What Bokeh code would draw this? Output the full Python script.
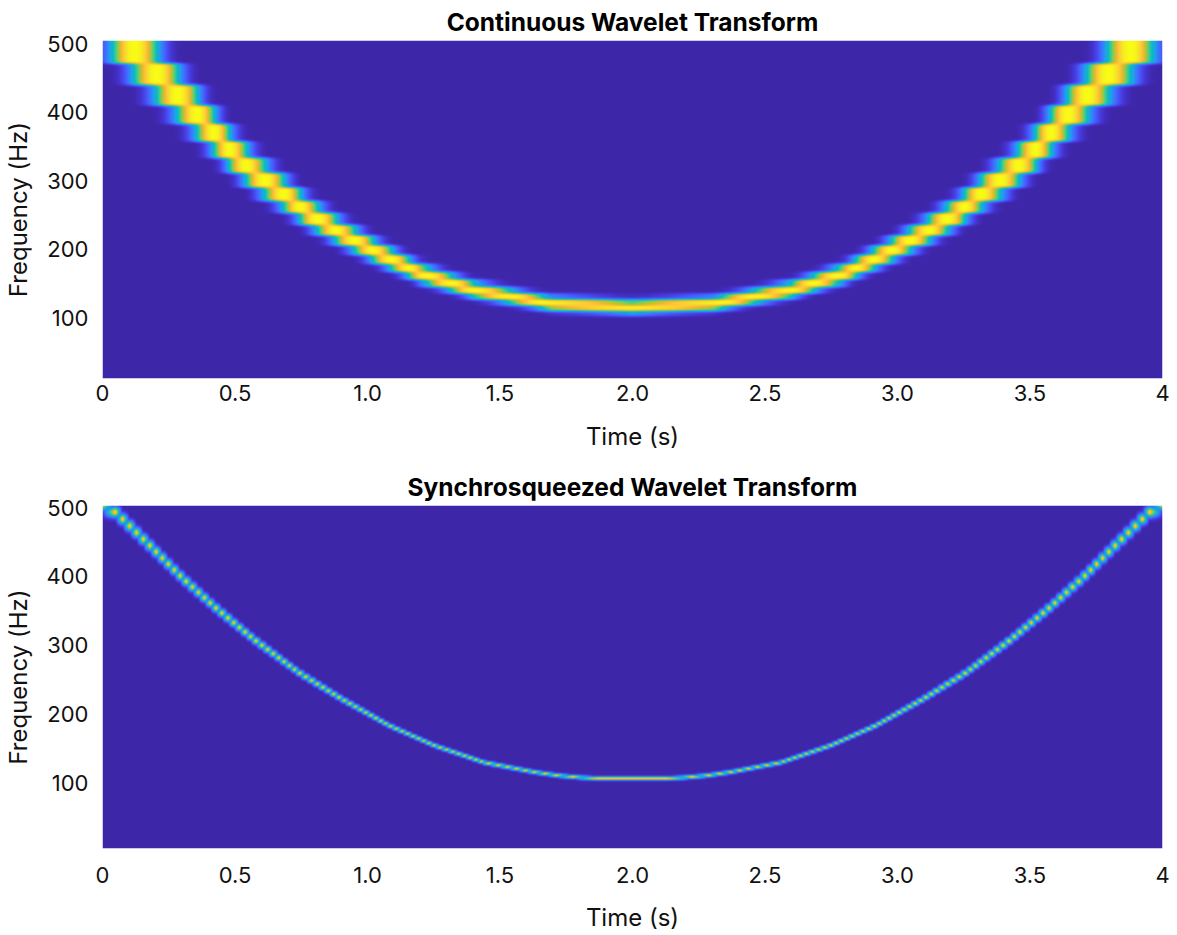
import numpy as np
from bokeh.plotting import figure
from bokeh.layouts import column
from bokeh.models import FixedTicker, Range1d, LinearColorMapper
from bokeh.embed import file_html
from bokeh.resources import INLINE

# ---------------- data ----------------
x_tick_values = [0.0, 0.5, 1.0, 1.5, 2.0, 2.5, 3.0, 3.5, 4.0]
x_tick_labels = ["0", "0.5", "1.0", "1.5", "2.0", "2.5", "3.0", "3.5", "4"]
y_tick_values = [100, 200, 300, 400, 500]

# CWT ridge (centre of the bright band), time in s, frequency in Hz
cwt_time = [0.0, 0.12, 0.20, 0.275, 0.35, 0.42, 0.49, 0.575, 0.677, 0.778, 0.90, 1.04,
            1.20, 1.40, 1.69, 2.00, 2.31, 2.60, 2.80, 2.96, 3.10, 3.222, 3.323, 3.425,
            3.51, 3.58, 3.65, 3.725, 3.80, 3.88, 4.0]
cwt_freq = [540, 488, 457, 428, 399, 370, 340, 311, 282, 252, 223, 194,
            164, 140, 120, 115, 120, 140, 164, 194, 223, 252, 282, 311,
            340, 370, 399, 428, 457, 488, 540]
cwt_top_bin = 488.0          # highest CWT voice (Hz)
cwt_voices = 10              # voices per octave
cwt_range = (11, 505)

# SSWT ridge
sswt_time = [0.0, 0.05, 0.17, 0.30, 0.43, 0.575, 0.74, 0.90, 1.08, 1.25, 1.44, 1.63,
             1.72, 1.81, 1.87, 2.13, 2.19, 2.28, 2.37, 2.56, 2.75, 2.92, 3.10, 3.26,
             3.425, 3.57, 3.70, 3.83, 3.95, 4.0]
sswt_freq = [503, 493, 448, 398, 353, 307, 260, 222, 183, 154, 129, 115,
             110, 107, 106, 106, 107, 110, 115, 129, 154, 183, 222, 260,
             307, 353, 398, 448, 493, 503]
sswt_base_bin = 106.0
sswt_ratio = 1.021
sswt_range = (4, 503)

# parula colour map (style)
parula64 = [
    (0.2422, 0.1504, 0.6603), (0.2504, 0.1650, 0.7076), (0.2578, 0.1818, 0.7511), (0.2647, 0.1978, 0.7952),
    (0.2706, 0.2147, 0.8364), (0.2751, 0.2342, 0.8710), (0.2783, 0.2559, 0.8991), (0.2803, 0.2782, 0.9221),
    (0.2813, 0.3006, 0.9414), (0.2810, 0.3228, 0.9579), (0.2795, 0.3447, 0.9717), (0.2760, 0.3667, 0.9829),
    (0.2699, 0.3892, 0.9906), (0.2602, 0.4123, 0.9952), (0.2440, 0.4358, 0.9988), (0.2206, 0.4603, 0.9973),
    (0.1963, 0.4847, 0.9892), (0.1834, 0.5074, 0.9798), (0.1786, 0.5289, 0.9682), (0.1764, 0.5499, 0.9520),
    (0.1687, 0.5703, 0.9359), (0.1540, 0.5902, 0.9218), (0.1460, 0.6091, 0.9079), (0.1380, 0.6276, 0.8973),
    (0.1248, 0.6459, 0.8883), (0.1113, 0.6635, 0.8763), (0.0952, 0.6798, 0.8598), (0.0689, 0.6948, 0.8394),
    (0.0297, 0.7082, 0.8163), (0.0036, 0.7203, 0.7917), (0.0067, 0.7312, 0.7660), (0.0433, 0.7411, 0.7394),
    (0.0964, 0.7500, 0.7120), (0.1408, 0.7584, 0.6842), (0.1717, 0.7670, 0.6554), (0.1938, 0.7758, 0.6251),
    (0.2161, 0.7843, 0.5923), (0.2470, 0.7918, 0.5567), (0.2906, 0.7973, 0.5188), (0.3406, 0.8008, 0.4789),
    (0.3909, 0.8029, 0.4354), (0.4456, 0.8024, 0.3909), (0.5044, 0.7993, 0.3480), (0.5616, 0.7942, 0.3045),
    (0.6174, 0.7876, 0.2612), (0.6720, 0.7793, 0.2227), (0.7242, 0.7698, 0.1910), (0.7738, 0.7598, 0.1646),
    (0.8203, 0.7498, 0.1535), (0.8634, 0.7406, 0.1596), (0.9035, 0.7330, 0.1774), (0.9393, 0.7288, 0.2100),
    (0.9728, 0.7298, 0.2394), (0.9956, 0.7434, 0.2371), (0.9970, 0.7659, 0.2199), (0.9952, 0.7893, 0.2028),
    (0.9892, 0.8136, 0.1885), (0.9786, 0.8386, 0.1766), (0.9676, 0.8639, 0.1643), (0.9610, 0.8890, 0.1537),
    (0.9597, 0.9135, 0.1423), (0.9628, 0.9373, 0.1265), (0.9691, 0.9606, 0.1064), (0.9769, 0.9839, 0.0805)]

# ---------------- rendering helpers ----------------
pal = np.array(parula64)
pos = np.linspace(0, 1, len(pal))
fine = np.linspace(0, 1, 256)
palette = ["#%02x%02x%02x" % tuple(int(round(255 * np.interp(f, pos, pal[:, c]))) for c in range(3))
           for f in fine]
cmap = LinearColorMapper(palette=palette, low=0.0, high=1.0)

FRAME_W = 1061
FONT = "Inter"


def blur(a, sigma, axis):
    r = int(np.ceil(3 * sigma))
    ker = np.exp(-0.5 * (np.arange(-r, r + 1) / sigma) ** 2)
    ker /= ker.sum()
    pad = [(0, 0), (0, 0)]
    pad[axis] = (r, r)
    ap = np.pad(a, pad, mode="edge")
    out = np.zeros_like(a)
    n = a.shape[axis]
    for i, kv in enumerate(ker):
        sl = [slice(None), slice(None)]
        sl[axis] = slice(i, i + n)
        out += kv * ap[tuple(sl)]
    return out


def cwt_image(n_rows, ss=2):
    y0, y1 = cwt_range
    ny = n_rows * ss
    fy = y0 + (np.arange(ny) + 0.5) * (y1 - y0) / ny
    t = (np.arange(FRAME_W) + 0.5) * 4.0 / FRAME_W
    fr = np.interp(t, cwt_time, cwt_freq)
    k = np.round(np.log2(cwt_top_bin / fy) * cwt_voices)
    bk = cwt_top_bin * 2.0 ** (-k / cwt_voices)
    d = np.abs(np.log(bk[:, None] / fr[None, :]))
    val = np.exp(-(d / 0.078) ** 2.5)
    val = val.reshape(n_rows, ss, FRAME_W).mean(axis=1)
    val = blur(val, 1.3, 0)
    val = blur(val, 1.5, 1)
    return val


def sswt_image(n_rows, ss=4):
    y0, y1 = sswt_range
    ny = n_rows * ss
    fy = (y0 + (np.arange(ny) + 0.5) * (y1 - y0) / ny)[:, None]
    t = (np.arange(FRAME_W) + 0.5) * 4.0 / FRAME_W
    fr = np.interp(t, sswt_time, sswt_freq)[None, :]
    lr = np.log(sswt_ratio)
    pos_b = np.log(fr / sswt_base_bin) / lr
    k0 = np.floor(pos_b)
    frac = pos_b - k0
    val = np.zeros((ny, FRAME_W))
    for kk, amp in ((k0, 1.0 - frac), (k0 + 1, frac)):
        bk = sswt_base_bin * sswt_ratio ** kk
        width = bk * (sswt_ratio - 1.0)
        s = np.maximum(0.5 * width, 1.8)
        val = np.maximum(val, 0.92 * amp * np.exp(-0.5 * ((fy - bk) / s) ** 2))
    return val.reshape(n_rows, ss, FRAME_W).mean(axis=1)


def make_fig(title, yr, frame_h, img, top, bottom, xl_standoff, xa_standoff):
    height = top + frame_h + bottom
    p = figure(width=1177, height=height, x_range=Range1d(0, 4), y_range=Range1d(*yr),
               output_backend="svg", toolbar_location=None,
               min_border_left=101, min_border_right=15, min_border_top=top,
               min_border_bottom=bottom, title=title)
    p.image(image=[img], x=0, y=yr[0], dw=4, dh=yr[1] - yr[0], color_mapper=cmap)
    p.title.align = "center"
    p.title.text_font = FONT
    p.title.text_font_style = "bold"
    p.title.text_font_size = "24.5px"
    p.title.text_color = "#000000"
    p.title.standoff = 8
    p.grid.visible = False
    p.outline_line_color = None
    p.xaxis.ticker = FixedTicker(ticks=x_tick_values)
    p.xaxis.major_label_overrides = {float(v): l for v, l in zip(x_tick_values, x_tick_labels)}
    p.yaxis.ticker = FixedTicker(ticks=y_tick_values)
    for ax in (p.xaxis[0], p.yaxis[0]):
        ax.axis_line_color = None
        ax.major_tick_line_color = None
        ax.minor_tick_line_color = None
        ax.major_label_text_font = FONT
        ax.major_label_text_font_size = "22px"
        ax.major_label_text_color = "#111111"
        ax.axis_label_text_font = FONT
        ax.axis_label_text_font_size = "24px"
        ax.axis_label_text_font_style = "normal"
        ax.axis_label_text_color = "#111111"
    p.xaxis.axis_label = "Time (s)"
    p.yaxis.axis_label = "Frequency (Hz)"
    p.xaxis.major_label_standoff = xl_standoff
    p.xaxis.axis_label_standoff = xa_standoff
    p.yaxis.major_label_standoff = 8
    p.yaxis.axis_label_standoff = 11
    return p


p1 = make_fig("Continuous Wavelet Transform", cwt_range, 338, cwt_image(338), 40, 85, 0, 18)
p2 = make_fig("Synchrosqueezed Wavelet Transform", sswt_range, 343, sswt_image(343), 42, 87, 12, 17)

layout = column(p1, p2, spacing=0)
open("out.html", "w").write(file_html(layout, INLINE))
